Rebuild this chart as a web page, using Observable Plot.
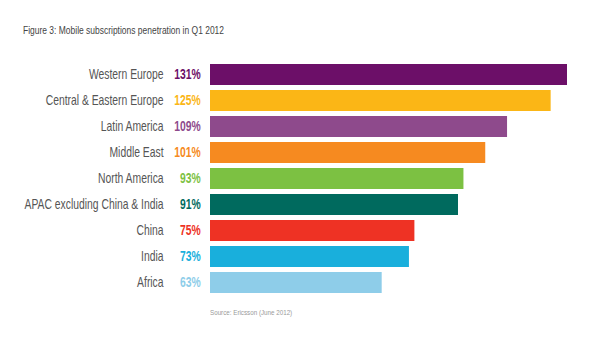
<!DOCTYPE html>
<html>
<head>
<meta charset="utf-8">
<script src="https://cdn.jsdelivr.net/npm/d3@7"></script>
<script src="https://cdn.jsdelivr.net/npm/@observablehq/plot@0.6"></script>
<style>
  html, body { margin: 0; padding: 0; background: #fff; }
  #wrap { position: relative; width: 600px; height: 363px; font-family: "Liberation Sans", Arial, sans-serif; }
  #title { position: absolute; left: 23px; top: 24px; font-size: 11px; color: #444; white-space: nowrap; transform: scaleX(0.77); transform-origin: left center; }
  #source { position: absolute; left: 210px; top: 308px; font-size: 8px; color: #9a9a9a; white-space: nowrap; transform: scaleX(0.78); transform-origin: left center; }
  svg { display: block; }
</style>
</head>
<body>
<div id="wrap">
  <div id="chart"></div>
  <div id="title">Figure 3: Mobile subscriptions penetration in Q1 2012</div>
  <div id="source">Source: Ericsson (June 2012)</div>
</div>
<script>
const regions = ["Western Europe", "Central & Eastern Europe", "Latin America", "Middle East", "North America", "APAC excluding China & India", "China", "India", "Africa"];
const penetration = [131, 125, 109, 101, 93, 91, 75, 73, 63];
const colors = ["#6c0f68", "#fbb616", "#8e4a8c", "#f68a20", "#7cc142", "#006a5e", "#ee3224", "#19afdc", "#8ecde9"];

const data = regions.map((r, i) => ({region: r, value: penetration[i], color: colors[i], label: penetration[i] + "%"}));

const chart = Plot.plot({
  width: 600,
  height: 363,
  marginLeft: 210,
  marginRight: 33,
  marginTop: 57,
  marginBottom: 63,
  style: {fontFamily: "'Liberation Sans', Arial, sans-serif", background: "#fff"},
  x: {domain: [0, 131], axis: null},
  y: {domain: regions, padding: 0.2, label: null},
  marks: [
    Plot.barX(data, {y: "region", x: "value", fill: "color"}),
    Plot.axisY({tickSize: 0, tickPadding: 47, fontSize: 14, color: "#555", label: null}),
    Plot.text(data, {y: "region", x: () => 0, text: "label", textAnchor: "end", dx: -10, fill: "color", fontSize: 14, fontWeight: "bold"})
  ]
});
document.getElementById("chart").appendChild(chart);
// condense text horizontally around its right (end) anchor
chart.querySelectorAll("text").forEach(t => {
  const bb = t.getBBox();
  const rx = bb.x + bb.width;
  const prev = t.getAttribute("transform") || "";
  t.setAttribute("transform", `${prev} translate(${rx},0) scale(0.74,1) translate(${-rx},0)`);
});
</script>
</body>
</html>
